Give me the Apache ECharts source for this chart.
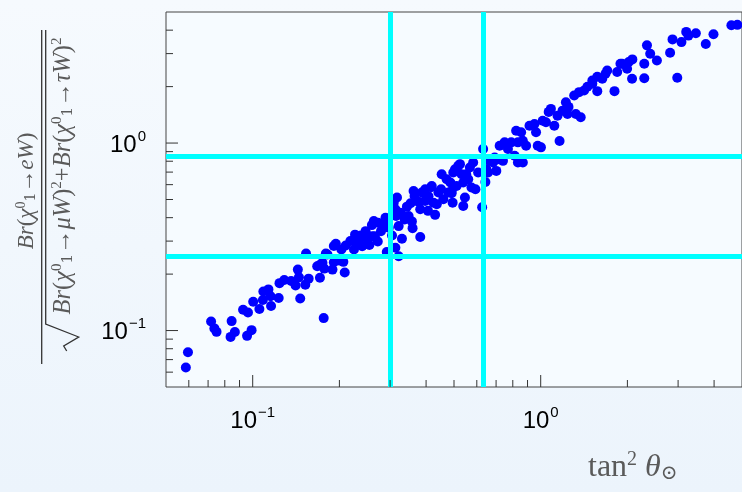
<!DOCTYPE html>
<html><head><meta charset="utf-8">
<script src="https://cdn.jsdelivr.net/npm/echarts@6/dist/echarts.min.js"></script>
<style>html,body{margin:0;padding:0;width:742px;height:492px;overflow:hidden}#c{width:742px;height:492px}</style>
</head><body><div id="c"></div>
<script>
// ---- data (log–log scatter) ----
const pointsX = [
0.0596,0.0586,0.0717,0.0736,0.0749,0.0845,0.0867,0.0838,0.0991,0.0956,
0.0926,0.0963,0.1004,0.1055,0.1089,0.1134,0.1085,0.1154,0.1158,0.1231,
0.1239,0.1287,0.1360,0.1409,0.1435,0.1462,0.1447,0.1523,0.1564,0.1712,
0.1709,0.1771,0.1747,0.1764,0.1532,0.1795,0.1675,0.1892,0.2087,0.1913,
0.1995,0.2064,0.1913,0.1944,0.1818,0.2032,0.2104,0.2183,0.2266,0.2315,
0.2247,0.2400,0.2339,0.2466,0.2542,0.2634,0.2593,0.2725,0.2789,0.2718,
0.2599,0.2498,0.2655,0.2891,0.2968,0.3046,0.3129,0.2921,0.3145,0.3129,
0.3257,0.3213,0.3298,0.3370,0.3431,0.3571,0.3590,0.3817,0.3648,0.3767,
0.3866,0.3972,0.4166,0.4061,0.4299,0.4242,0.4414,0.4509,0.4907,0.4945,
0.4856,0.5105,0.3213,0.3088,0.3170,0.3478,0.3817,0.3972,0.4185,0.4531,
0.4714,0.4778,0.3342,0.3619,0.3972,0.4907,0.5041,0.5174,0.5312,0.5383,
0.5457,0.5383,0.5602,0.5677,0.5828,0.5751,0.5935,0.6261,0.6064,0.6310,
0.6478,0.6426,0.6654,0.6922,0.7012,0.7203,0.7396,0.7494,0.7903,0.8119,
0.8334,0.8668,0.8218,0.8552,0.8899,0.9143,0.9512,0.9765,0.9634,1.016,
0.5245,0.4972,0.6565,0.6831,0.7106,0.8334,0.8668,1.002,1.043,1.085,
1.115,1.163,1.144,1.191,1.223,1.239,1.324,1.377,1.307,1.359,
1.415,1.511,1.572,1.511,1.636,1.679,1.702,1.804,1.843,1.892,
1.995,2.076,2.022,1.918,2.081,2.289,2.289,2.339,2.400,2.532,
2.814,2.869,2.980,3.081,3.201,3.257,3.457,3.743,3.981,4.593,
4.817,1.066,1.453,1.572,1.249,0.4592,0.4357,0.2376,0.2852,0.3534,
0.4077,0.5514,0.7696];
const pointsY = [
0.0766,0.0635,0.1117,0.1027,0.0984,0.1123,0.0982,0.0925,0.1005,0.0937,
0.1291,0.1249,0.1425,0.1304,0.1616,0.1658,0.1455,0.1525,0.1351,0.1491,
0.1790,0.1862,0.1839,0.1740,0.2114,0.1482,0.1922,0.1757,0.1892,0.1911,
0.2235,0.2140,0.2296,0.1165,0.2575,0.2575,0.2202,0.2114,0.2042,0.2313,
0.2362,0.2325,0.2825,0.2903,0.2543,0.2706,0.2842,0.3004,0.3247,0.2877,
0.2706,0.2818,0.2986,0.3390,0.2860,0.3836,0.3651,0.3761,0.3390,0.2986,
0.3188,0.3087,0.3188,0.3999,0.3535,0.3215,0.2763,0.2623,0.4079,0.4431,
0.4254,0.3606,0.3087,0.3917,0.4581,0.3822,0.3518,0.3156,0.5222,0.4859,
0.5445,0.5670,0.5812,0.4350,0.4140,0.4811,0.5445,0.5670,0.5399,0.4811,
0.6159,0.5907,0.2490,0.4811,0.5120,0.4079,0.4431,0.4907,0.5907,0.6823,
0.6412,0.5445,0.4079,0.5554,0.5331,0.5554,0.7257,0.7558,0.6823,0.6159,
0.5120,0.4615,0.6412,0.7410,0.7880,0.5791,0.5670,0.4542,0.6967,0.9287,
0.7257,0.6205,0.8038,0.8383,0.7104,0.9672,0.8038,1.0087,1.0087,0.8551,
0.7880,0.7880,1.164,1.141,0.9672,1.238,1.264,0.9672,1.141,1.316,
0.7719,0.6967,0.6967,0.7880,0.8209,1.0087,1.029,0.9484,1.291,1.521,
1.238,1.025,1.400,1.489,1.652,1.430,1.430,1.373,1.792,1.869,
1.906,2.070,1.892,2.157,2.202,2.342,2.439,1.892,2.391,2.649,
2.491,2.202,2.705,2.649,2.794,2.649,2.215,3.320,2.997,2.759,
3.034,3.571,2.229,3.454,3.916,3.742,3.850,3.378,3.803,4.249,
4.270,1.466,1.995,2.257,1.559,0.5012,0.4713,0.3215,0.3682,0.4772,
0.5203,0.6823,0.9287];

// cut lines (cyan)
const verticalCuts = [0.3, 0.625];
const horizontalCuts = [0.855, 0.25];

// axis ranges & ticks
const xRange = [0.05, 5];
const yRange = [0.05, 5];
const majorTicks = [0.1, 1];
const minorTicks = [0.06,0.07,0.08,0.09,0.2,0.3,0.4,0.5,0.6,0.7,0.8,0.9,2,3,4];
const tickLabels = {'0.1': ['10','−1'], '1': ['10','0']};

const scatterData = pointsX.map((x, i) => [x, pointsY[i]]);

function labelFor(v) {
  for (const k in tickLabels) {
    if (Math.abs(Math.log10(v) - Math.log10(+k)) < 0.01) {
      const t = tickLabels[k];
      return '{b|' + t[0] + '}{s|' + t[1] + '}';
    }
  }
  return '';
}
const labelRich = {
  b: {fontSize: 24, fontFamily: 'Liberation Sans', color: '#000', lineHeight: 28, verticalAlign: 'bottom'},
  s: {fontSize: 15, fontFamily: 'Liberation Sans', color: '#000', lineHeight: 15, verticalAlign: 'top', padding: [0,0,0,1]}
};

const tickData = [].concat(
  majorTicks.map(v => [v, 1]),
  minorTicks.map(v => [v, 0])
);

const chart = echarts.init(document.getElementById('c'), null, {renderer: 'canvas'});

const TC = '#5a5a5a';
function serifRich(fs) {
  const sm = Math.round(fs * 0.62);
  return {
    i: {fontFamily: 'Liberation Serif', fontStyle: 'italic', fontSize: fs, fill: TC, verticalAlign: 'bottom', lineHeight: Math.round(fs * 1.05)},
    n: {fontFamily: 'Liberation Serif', fontSize: fs, fill: TC, verticalAlign: 'bottom', lineHeight: Math.round(fs * 1.05)},
    sup: {fontFamily: 'Liberation Serif', fontSize: sm, fill: TC, verticalAlign: 'top', lineHeight: sm},
    sub: {fontFamily: 'DejaVu Serif', fontSize: sm, fill: TC, verticalAlign: 'bottom', lineHeight: sm}
  };
}

chart.setOption({
  animation: false,
  backgroundColor: {type: 'linear', x: 0, y: 0, x2: 0, y2: 1,
    colorStops: [{offset: 0, color: '#f6fafe'}, {offset: 1, color: '#ecf4fc'}]},
  grid: {left: 166, top: 12, right: -4, bottom: 105, show: true,
    backgroundColor: '#f6fbff', borderColor: '#444', borderWidth: 1},
  xAxis: {type: 'log', logBase: 10, min: xRange[0], max: xRange[1],
    axisLine: {show: false}, axisTick: {show: false}, splitLine: {show: false},
    axisLabel: {formatter: labelFor, rich: labelRich, margin: 18, showMinLabel: true, showMaxLabel: false}},
  yAxis: {type: 'log', logBase: 10, min: yRange[0], max: yRange[1],
    axisLine: {show: false}, axisTick: {show: false}, splitLine: {show: false},
    axisLabel: {formatter: labelFor, rich: labelRich, margin: 20, showMinLabel: true, showMaxLabel: false}},
  series: [
    {type: 'scatter', data: scatterData, symbolSize: 10, itemStyle: {color: '#0000ff', opacity: 1},
      silent: true, z: 2,
      markLine: {silent: true, symbol: ['none', 'none'], z: 6, label: {show: false},
        lineStyle: {color: '#00ffff', width: 5, type: 'solid'},
        emphasis: {disabled: true},
        data: verticalCuts.map(v => ({xAxis: v})).concat(horizontalCuts.map(v => ({yAxis: v})))}},
    {type: 'custom', silent: true, z: 7, data: tickData,
      renderItem: function (params, api) {
        const v = api.value(0), major = api.value(1) === 1;
        const p = api.coord([v, yRange[0]]);
        const len = major ? 12 : 7;
        return {type: 'line', shape: {x1: p[0], y1: p[1], x2: p[0], y2: p[1] - len},
          style: {stroke: '#333', lineWidth: 1}};
      }},
    {type: 'custom', silent: true, z: 7, data: tickData.map(d => [xRange[0], d[0], d[1]]),
      encode: {x: 0, y: 1},
      renderItem: function (params, api) {
        const v = api.value(1), major = api.value(2) === 1;
        const p = api.coord([xRange[0], v]);
        const len = major ? 12 : 7;
        return {type: 'line', shape: {x1: p[0], y1: p[1], x2: p[0] + len, y2: p[1]},
          style: {stroke: '#333', lineWidth: 1}};
      }}
  ],
  graphic: [
    {type: 'group', x: 41.7, y: 197, rotation: Math.PI / 2, silent: true, children: [
      {type: 'line', shape: {x1: -167, y1: 0, x2: 167, y2: 0}, style: {stroke: '#333', lineWidth: 1.3}},
      {type: 'text', x: 6, y: -15, style: {
        text: '{i|Br}{n|(}{i|χ}{sup|0}{sub|1}{n|→}{i|eW}{n|)}',
        rich: serifRich(23), align: 'center', verticalAlign: 'middle'}},
      {type: 'text', x: 21, y: 21, style: {
        text: '{i|Br}{n|(}{i|χ}{sup|0}{sub|1}{n|→}{i|μW}{n|)}{sup|2}{n|+}{i|Br}{n|(}{i|χ}{sup|0}{sub|1}{n|→}{i|τW}{n|)}{sup|2}',
        rich: serifRich(24.5), align: 'center', verticalAlign: 'middle'}},
      {type: 'polyline', shape: {points: [[-154, 25], [-149, 22], [-140, 37], [-127, 4], [167, 4]]},
        style: {stroke: '#333', lineWidth: 1.3, fill: null}}
    ]},
    {type: 'text', left: 588, top: 450, silent: true, style: {
      text: '{n|tan}{sup|2}{n| }{i|θ}{sub|⊙}',
      rich: serifRich(32)}}
  ]
});
</script>
</body></html>
